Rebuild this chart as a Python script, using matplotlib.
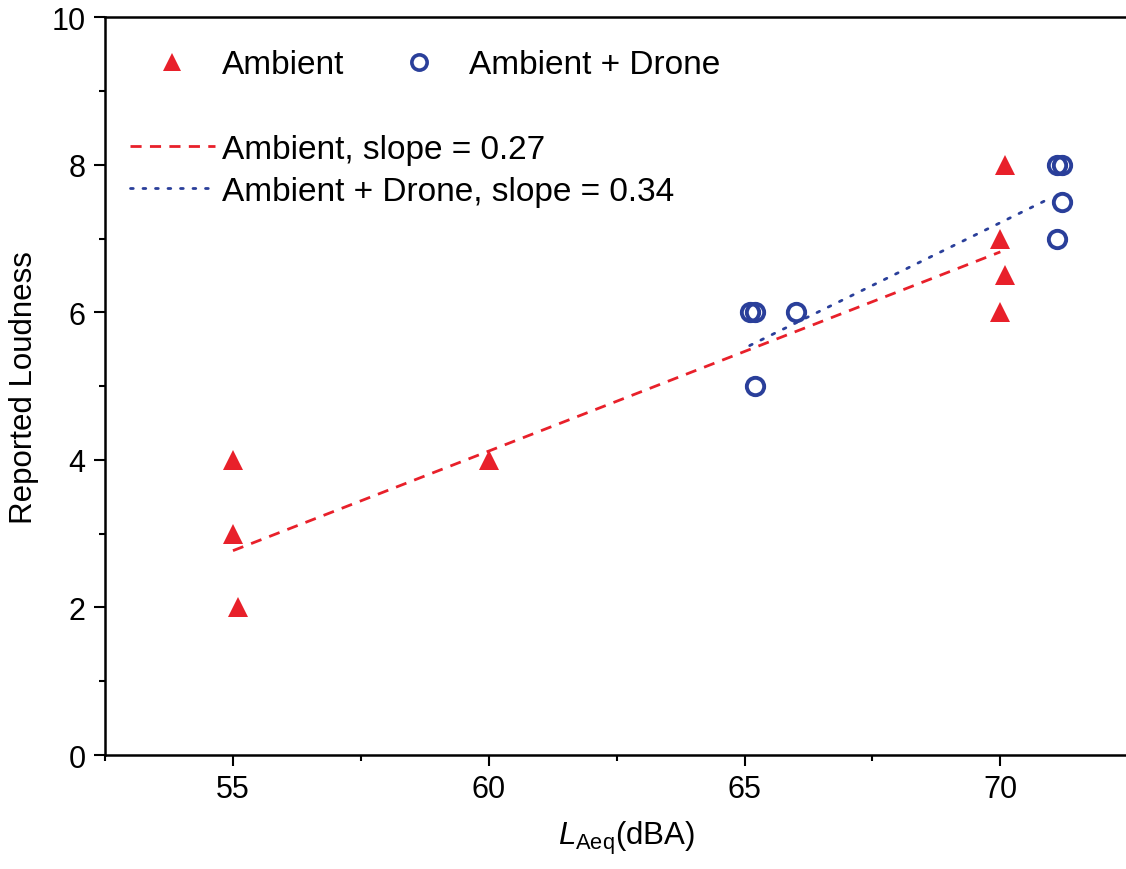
import numpy as np
import matplotlib
matplotlib.use("Agg")
import matplotlib.pyplot as plt
from matplotlib.ticker import MultipleLocator
from matplotlib.lines import Line2D

plt.rcParams['font.family'] = ['Liberation Sans', 'DejaVu Sans']
plt.rcParams['mathtext.fontset'] = 'custom'
plt.rcParams['mathtext.rm'] = 'Liberation Sans'
plt.rcParams['mathtext.it'] = 'Liberation Sans:italic'

# data
ambient_x = [55.0, 55.0, 55.1, 60.0, 70.1, 70.0, 70.1, 70.0]
ambient_y = [4.0, 3.0, 2.0, 4.0, 8.0, 7.0, 6.5, 6.0]
drone_x = [65.1, 65.2, 65.2, 66.0, 71.1, 71.2, 71.2, 71.1]
drone_y = [6.0, 6.0, 5.0, 6.0, 8.0, 8.0, 7.5, 7.0]

# linear fits (slope, value at start, x range)
ambient_slope = 0.27
ambient_start = 2.77
ambient_range = [55.0, 70.0]
drone_slope = 0.34
drone_start = 5.55
drone_range = [65.1, 70.9]

RED = '#e8202a'
BLUE = '#2a3f9a'
DASH = (0, (4, 3))
DOT = (0, (1, 3.5))

fig = plt.figure(figsize=(11.26, 8.70), dpi=100)
ax = fig.add_axes([0.0933, 0.131, 0.9087, 0.848])

ax.plot(ambient_x, ambient_y, linestyle='none', marker='^', ms=15,
        color=RED, markeredgewidth=0, zorder=3)
ax.plot(drone_x, drone_y, linestyle='none', marker='o', ms=12.5,
        markerfacecolor='none', markeredgecolor=BLUE, markeredgewidth=2.8, zorder=3)

fx = np.array(ambient_range)
ax.plot(fx, ambient_start + ambient_slope * (fx - fx[0]), color=RED,
        linestyle=DASH, lw=2.0, zorder=2)
dx = np.array(drone_range)
ax.plot(dx, drone_start + drone_slope * (dx - dx[0]), color=BLUE,
        linestyle=DOT, lw=2.0, dash_capstyle='round', zorder=2)

ax.set_xlim(52.5, 72.5)
ax.set_ylim(0, 10)
ax.xaxis.set_major_locator(MultipleLocator(5))
ax.xaxis.set_minor_locator(MultipleLocator(2.5))
ax.yaxis.set_major_locator(MultipleLocator(2))
ax.yaxis.set_minor_locator(MultipleLocator(1))
ax.tick_params(which='both', direction='out', width=1.5, labelsize=22,
               top=False, right=False)
ax.tick_params(which='major', length=8, pad=6)
ax.tick_params(which='minor', length=4.5)
for side in ['left', 'bottom', 'top']:
    ax.spines[side].set_linewidth(1.8)
ax.spines['right'].set_visible(False)

ax.set_ylabel('Reported Loudness', fontsize=22.5, labelpad=9)
ax.set_xlabel(r'$L_{\mathrm{Aeq}}$(dBA)', fontsize=22.5)
ax.xaxis.set_label_coords(0.51, -0.087)

marker_handles = [
    Line2D([], [], linestyle='none', marker='^', ms=13, color=RED, markeredgewidth=0),
    Line2D([], [], linestyle='none', marker='o', ms=11, markerfacecolor='none',
           markeredgecolor=BLUE, markeredgewidth=2.6),
]
leg1 = ax.legend(marker_handles, ['Ambient', 'Ambient + Drone'], ncol=2,
                 frameon=False, fontsize=24, loc='upper left',
                 bbox_to_anchor=(0.0436, 0.9565), borderpad=0, borderaxespad=0,
                 handlelength=1.345, handletextpad=0.83, columnspacing=1.55)
ax.add_artist(leg1)

line_handles = [
    Line2D([], [], color=RED, linestyle=DASH, lw=2.0),
    Line2D([], [], color=BLUE, linestyle=DOT, lw=2.0, dash_capstyle='round'),
]
ax.legend(line_handles, ['Ambient, slope = 0.27', 'Ambient + Drone, slope = 0.34'],
          frameon=False, fontsize=24, loc='upper left',
          bbox_to_anchor=(0.0244, 0.842), borderpad=0, borderaxespad=0,
          handlelength=2.55, handletextpad=0.21, labelspacing=0.33)

fig.savefig('out.png', dpi=100)
